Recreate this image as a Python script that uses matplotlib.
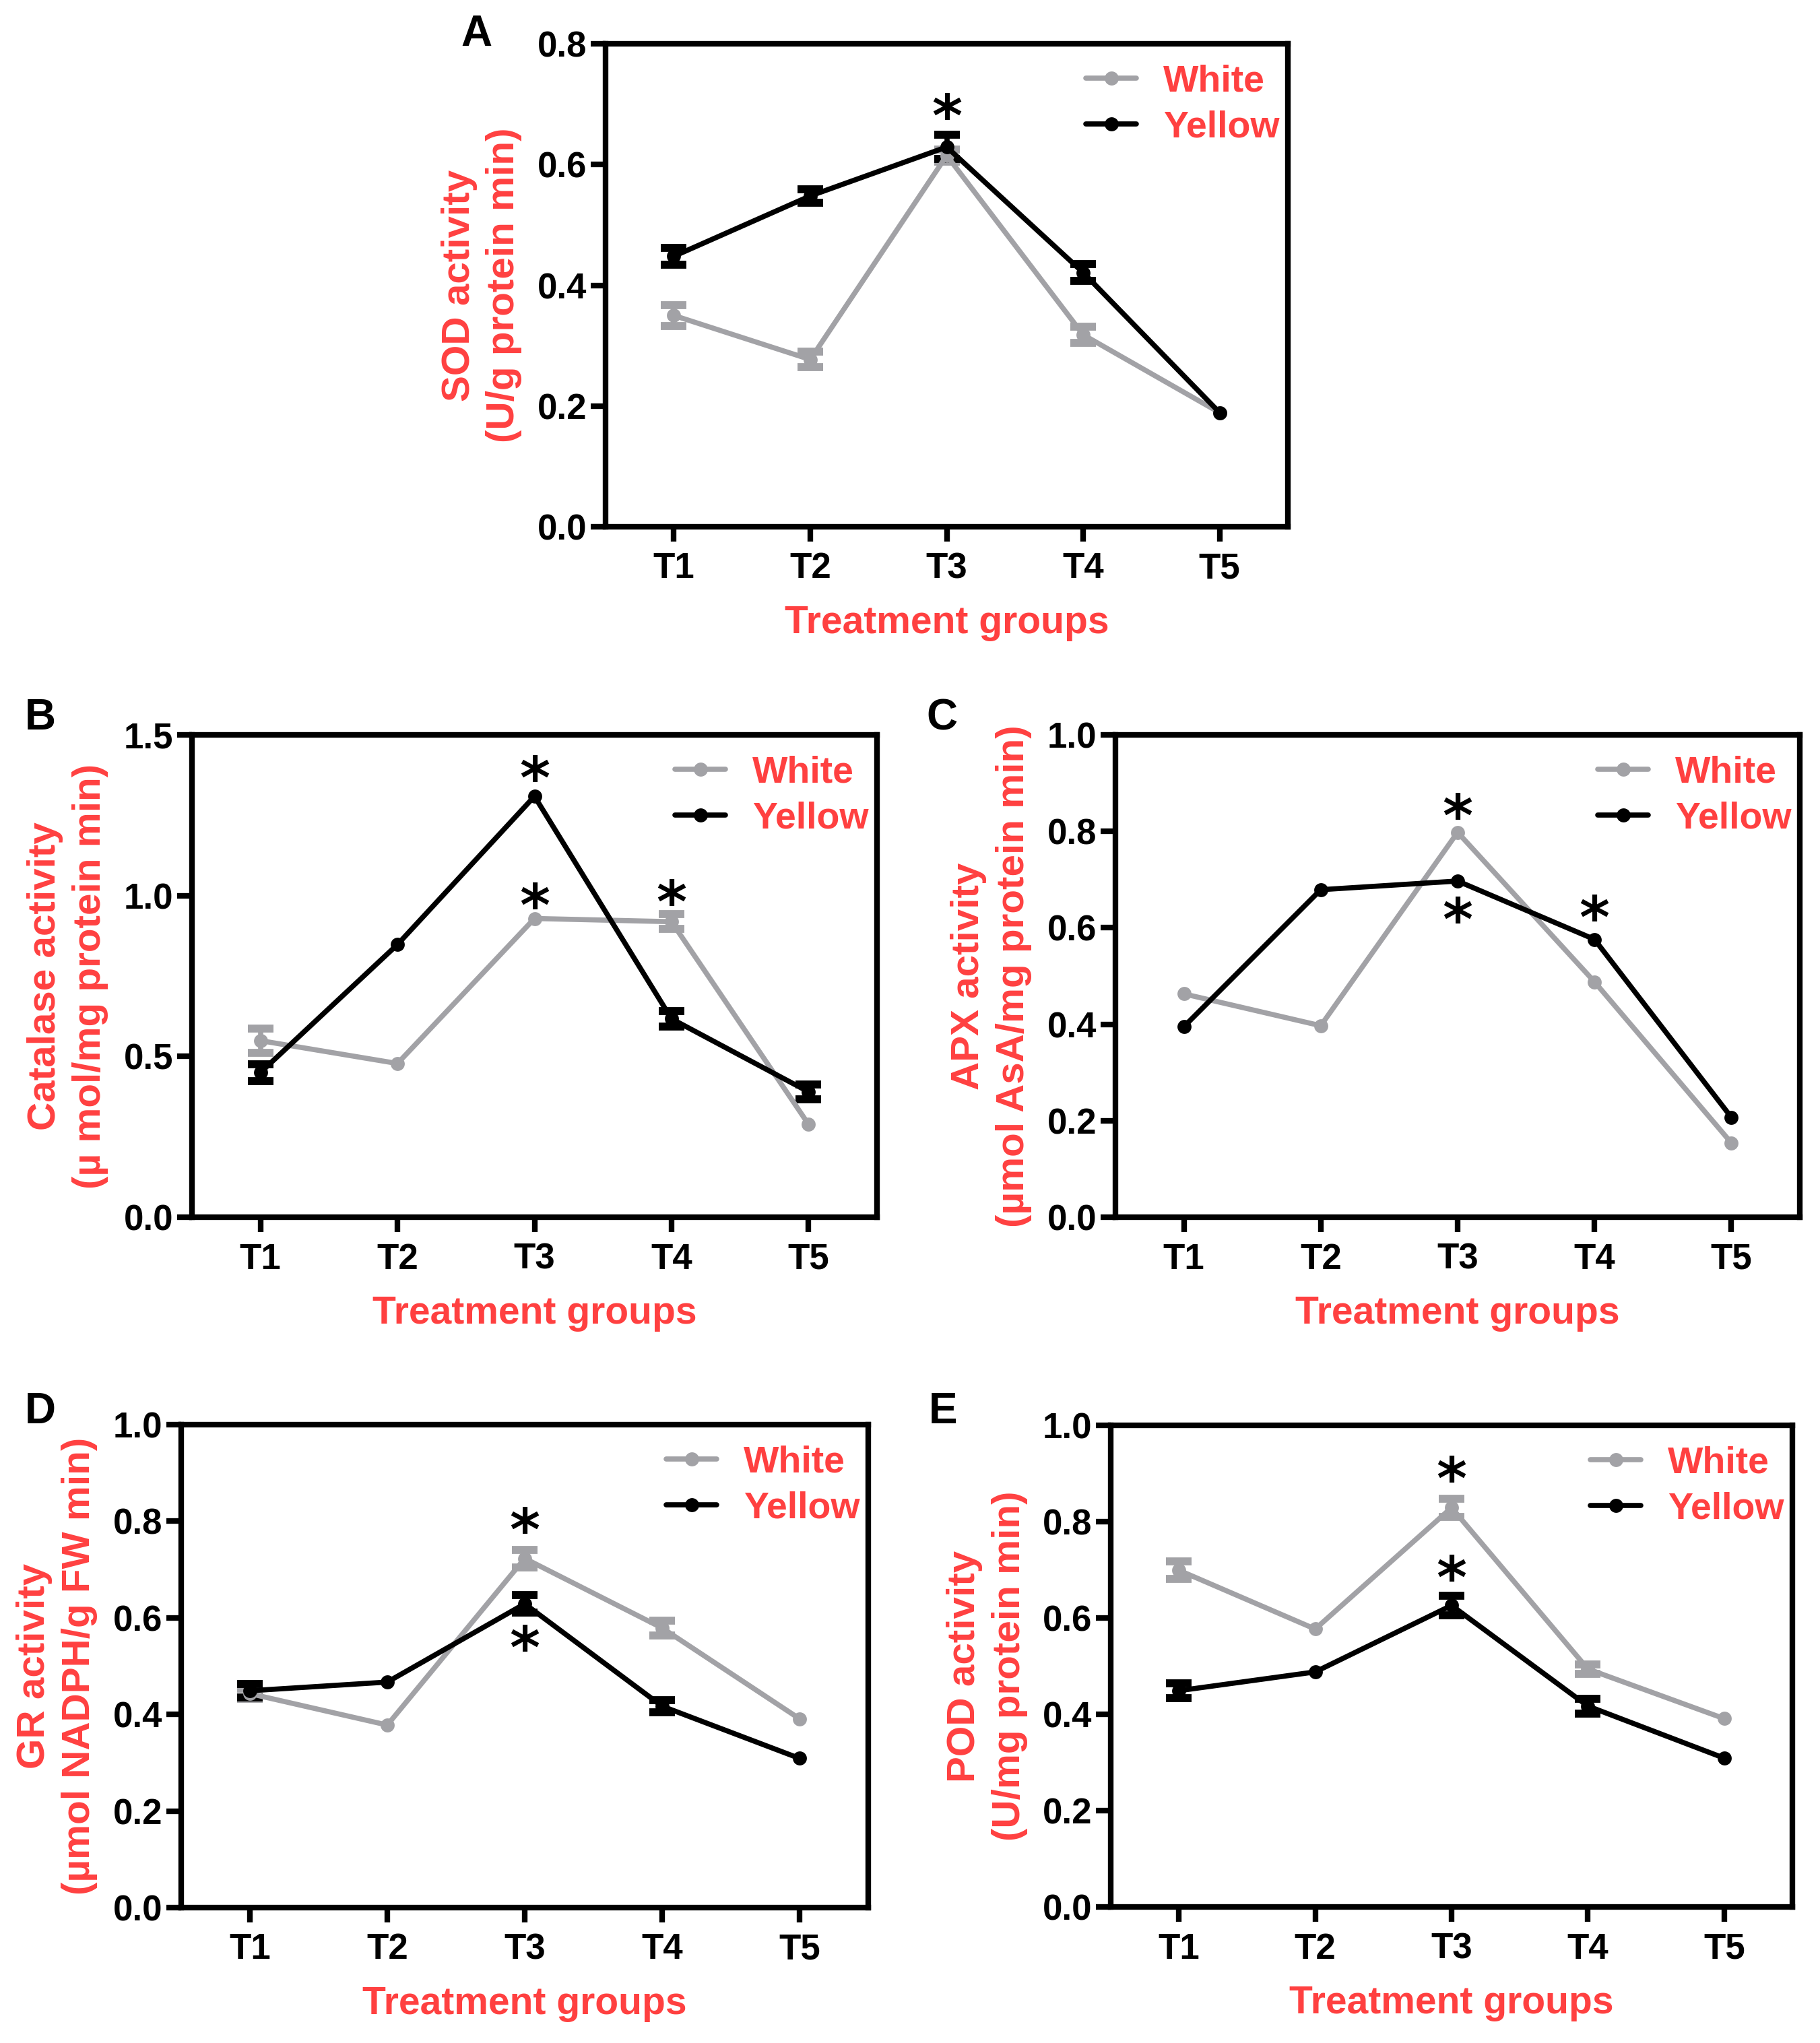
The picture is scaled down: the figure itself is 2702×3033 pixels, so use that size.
import numpy as np
import matplotlib
matplotlib.use("Agg")
import matplotlib.pyplot as plt

# ---------------- data ----------------
groups = ["T1", "T2", "T3", "T4", "T5"]
series_names = ["White", "Yellow"]

sod_white = [0.350, 0.277, 0.615, 0.318, 0.189]
sod_white_err = [0.017, 0.013, 0.010, 0.013, 0.0]
sod_yellow = [0.448, 0.548, 0.629, 0.421, 0.189]
sod_yellow_err = [0.014, 0.011, 0.020, 0.014, 0.0]
sod_stars_x = [3]
sod_stars_y = [0.695]

cat_white = [0.549, 0.478, 0.929, 0.919, 0.289]
cat_white_err = [0.037, 0.0, 0.0, 0.023, 0.0]
cat_yellow = [0.450, 0.848, 1.309, 0.617, 0.390]
cat_yellow_err = [0.026, 0.0, 0.0, 0.025, 0.023]
cat_stars_x = [3, 3, 4]
cat_stars_y = [1.393, 0.997, 1.007]

apx_white = [0.463, 0.397, 0.798, 0.488, 0.154]
apx_white_err = [0.0, 0.0, 0.0, 0.0, 0.0]
apx_yellow = [0.395, 0.679, 0.697, 0.576, 0.207]
apx_yellow_err = [0.0, 0.0, 0.0, 0.0, 0.0]
apx_stars_x = [3, 3, 4]
apx_stars_y = [0.850, 0.635, 0.640]

gr_white = [0.443, 0.378, 0.723, 0.579, 0.391]
gr_white_err = [0.010, 0.0, 0.018, 0.015, 0.0]
gr_yellow = [0.449, 0.467, 0.629, 0.417, 0.309]
gr_yellow_err = [0.014, 0.0, 0.018, 0.012, 0.0]
gr_stars_x = [3, 3]
gr_stars_y = [0.800, 0.557]

pod_white = [0.699, 0.577, 0.829, 0.494, 0.391]
pod_white_err = [0.018, 0.0, 0.019, 0.010, 0.0]
pod_yellow = [0.449, 0.488, 0.626, 0.417, 0.309]
pod_yellow_err = [0.015, 0.0, 0.020, 0.015, 0.0]
pod_stars_x = [3, 3]
pod_stars_y = [0.907, 0.702]

ylabels = {
    "A": "SOD activity\n(U/g protein min)",
    "B": "Catalase activity\n(\u00b5 mol/mg protein min)",
    "C": "APX activity\n(\u00b5mol AsA/mg protein min)",
    "D": "GR activity\n(\u00b5mol NADPH/g FW min)",
    "E": "POD activity\n(U/mg protein min)",
}
xlabel_text = "Treatment groups"

# ---------------- style ----------------
W, H = 2702, 3033
DPI = 100
GRAY = "#A2A2A6"
BLACK = "#000000"
RED = "#FF4040"
BOLD = ["Liberation Sans", "DejaVu Sans"]
NARROW = ["Liberation Sans Narrow", "Liberation Sans", "DejaVu Sans"]

fig = plt.figure(figsize=(W / DPI, H / DPI), dpi=DPI)
fig.patch.set_facecolor("white")

# (left, right, top, bottom) in pixels
boxes = {
    "A": (899, 1912, 65, 782),
    "B": (285, 1302, 1091, 1807),
    "C": (1656, 2672, 1091, 1807),
    "D": (269, 1289, 2115, 2832),
    "E": (1649, 2661, 2116, 2831),
}
panel_label_pos = {
    "A": (707, 68),
    "B": (60, 1083),
    "C": (1398, 1083),
    "D": (60, 2113),
    "E": (1400, 2113),
}

panels = {
    "A": (sod_white, sod_white_err, sod_yellow, sod_yellow_err, sod_stars_x, sod_stars_y,
          0.8, [0.0, 0.2, 0.4, 0.6, 0.8]),
    "B": (cat_white, cat_white_err, cat_yellow, cat_yellow_err, cat_stars_x, cat_stars_y,
          1.5, [0.0, 0.5, 1.0, 1.5]),
    "C": (apx_white, apx_white_err, apx_yellow, apx_yellow_err, apx_stars_x, apx_stars_y,
          1.0, [0.0, 0.2, 0.4, 0.6, 0.8, 1.0]),
    "D": (gr_white, gr_white_err, gr_yellow, gr_yellow_err, gr_stars_x, gr_stars_y,
          1.0, [0.0, 0.2, 0.4, 0.6, 0.8, 1.0]),
    "E": (pod_white, pod_white_err, pod_yellow, pod_yellow_err, pod_stars_x, pod_stars_y,
          1.0, [0.0, 0.2, 0.4, 0.6, 0.8, 1.0]),
}

x = np.arange(1, len(groups) + 1)


def draw_series(ax, vals, errs, color, label):
    vals = np.asarray(vals, dtype=float)
    errs = np.asarray(errs, dtype=float)
    e = np.where(errs > 0, errs, np.nan)
    ax.errorbar(x, vals, yerr=e, fmt="none", ecolor=color, elinewidth=5.5,
                capsize=14, capthick=8.5, zorder=3)
    ax.plot(x, vals, color=color, lw=5.5, marker="o", markersize=15,
            markeredgewidth=0, label=label, zorder=4, solid_capstyle="round")


for key, (wv, we, yv, ye, sx, sy, ymax, yticks) in panels.items():
    l, r, t, b = boxes[key]
    ax = fig.add_axes([l / W, 1 - b / H, (r - l) / W, (b - t) / H])
    draw_series(ax, wv, we, GRAY, series_names[0])
    draw_series(ax, yv, ye, BLACK, series_names[1])

    for xs, ys in zip(sx, sy):
        ax.annotate("*", xy=(xs, ys), xytext=(0, -14), textcoords="offset points",
                    ha="center", va="center", fontsize=62, fontweight="bold",
                    family=["DejaVu Sans"], color="black", zorder=5)

    ax.set_xlim(0.5, 5.5)
    ax.set_ylim(0, ymax)
    ax.set_xticks(x)
    ax.set_xticklabels(groups)
    ax.set_yticks(yticks)
    ax.set_yticklabels([f"{v:.1f}" for v in yticks])

    for s in ax.spines.values():
        s.set_linewidth(6)
        s.set_color("black")
    ax.tick_params(axis="both", direction="out", length=16, width=6,
                   labelsize=38, colors="black")
    ax.tick_params(axis="x", pad=11)
    ax.tick_params(axis="y", pad=4)
    for lbl in ax.get_xticklabels() + ax.get_yticklabels():
        lbl.set_fontfamily(NARROW)
        lbl.set_fontweight("bold")

    ax.set_ylabel(ylabels[key], color=RED, fontsize=42, fontweight="bold",
                  family=BOLD, linespacing=1.3)
    ax.yaxis.set_label_coords(-0.122, 0.5)
    ax.set_xlabel(xlabel_text, color=RED, fontsize=41, fontweight="bold",
                  family=BOLD)
    ax.xaxis.set_label_coords(0.5, -0.162)

    leg = ax.legend(loc="upper right", bbox_to_anchor=(0.988, 0.958),
                    frameon=False, borderaxespad=0, borderpad=0,
                    handlelength=1.35, handletextpad=0.72, labelspacing=0.3,
                    prop={"family": BOLD, "weight": "bold", "size": 40})
    for txt in leg.get_texts():
        txt.set_color(RED)

    px, py = panel_label_pos[key]
    fig.text(px / W, 1 - py / H, key, ha="center", va="baseline",
             fontsize=46, fontweight="bold", family=BOLD, color="black")

fig.savefig("out.png", dpi=DPI, facecolor="white")
